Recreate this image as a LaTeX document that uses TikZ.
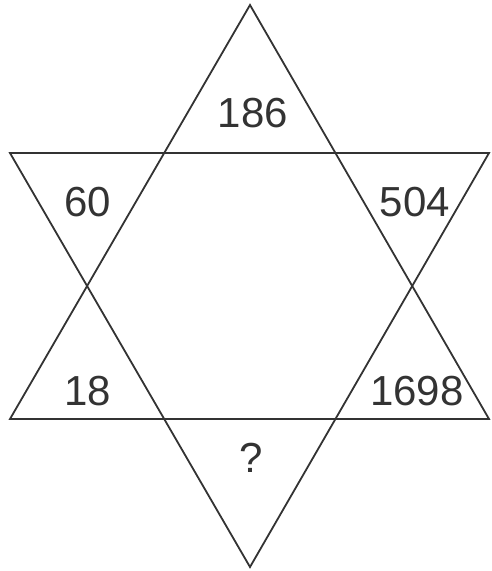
\documentclass[tikz,border=0pt]{standalone}
\usepackage{fontspec}
\setmainfont{Liberation Sans}
\definecolor{ink}{HTML}{333333}
\begin{document}
\begin{tikzpicture}[x=1pt,y=-1pt,
  edge/.style={draw=ink,line width=1.8pt,line join=miter},
  num/.style={inner sep=0pt,text=ink,font=\fontsize{42}{48}\selectfont}]
\useasboundingbox (0,0) rectangle (491,571);
\coordinate (T) at (250,5);
\coordinate (BL) at (10,419);
\coordinate (BR) at (489,419);
\coordinate (B) at (250,567);
\coordinate (TL) at (10,153);
\coordinate (TR) at (489,153);
\draw[edge] (T) -- (BL) -- (BR) -- cycle;
\draw[edge] (B) -- (TL) -- (TR) -- cycle;
\node[num] (n1) at (253,113) {186};
\node[num] (n2) at (88,202) {60};
\node[num] (n3) at (415,202) {504};
\node[num] (n4) at (88,391) {18};
\node[num] (n5) at (417,391) {1698};
\node[num] (n6) at (251,458) {?};
\end{tikzpicture}
\end{document}
